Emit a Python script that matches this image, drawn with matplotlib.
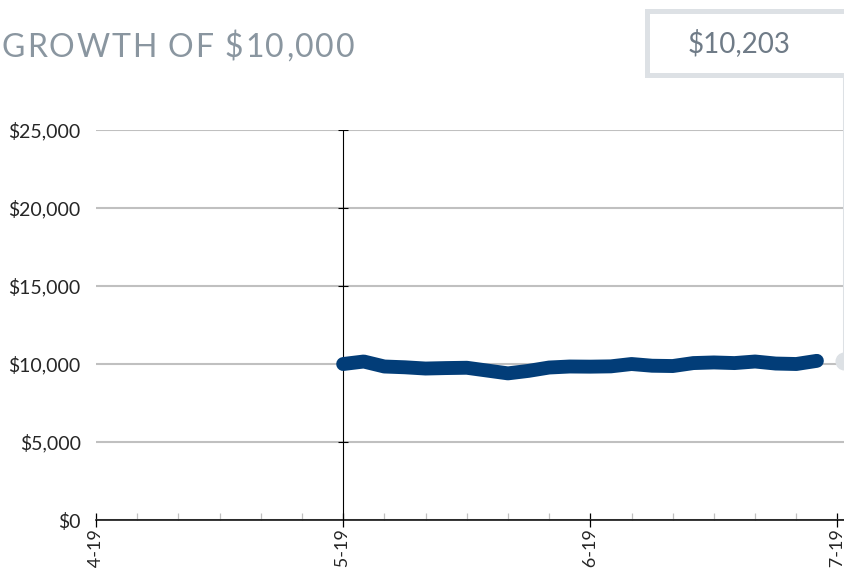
import matplotlib.pyplot as plt
from matplotlib.patches import Rectangle
from matplotlib.ticker import FuncFormatter, MultipleLocator

plt.rcParams['font.family'] = ['Lato', 'DejaVu Sans']

# monthly growth of $10,000, month 0 = start of the fund
months = list(range(24))
values = [10000, 10160, 9840, 9790, 9710, 9740, 9760, 9580, 9400, 9560,
          9775, 9840, 9830, 9850, 10000, 9890, 9870, 10060, 10100, 10060,
          10160, 10030, 10000, 10203]
tick_months = [-12, 0, 12, 24]
tick_labels = ['Jan-14-19', 'Jan-15-19', 'Jan-16-19', 'Jan-17-19']
y_ticks = [0, 5000, 10000, 15000, 20000, 25000]
final_value = values[-1]

NAVY = '#023d78'
GRID = '#c0c0c0'
PALE = '#dde1e5'

fig = plt.figure(figsize=(8.44, 5.69), dpi=100)
ax = fig.add_axes([0.1137, 0.0861, 0.903, 0.6854])

ax.plot(months, values, color=NAVY, lw=10, solid_capstyle='round',
        solid_joinstyle='round', zorder=4)

# start marker line
ax.axvline(0, color='black', lw=0.8, zorder=3)
ax.plot([0] * (len(y_ticks) - 1), y_ticks[1:], ls='none', marker='_',
        ms=7, mew=0.8, color='black', zorder=3)

ax.set_xlim(-12, 25)
ax.set_ylim(0, 25000)
ax.set_yticks(y_ticks)
ax.yaxis.set_major_formatter(FuncFormatter(lambda v, p: f'${v:,.0f}'))
ax.set_xticks(tick_months)
ax.set_xticklabels(tick_labels, rotation=90, va='top', ha='center')
ax.xaxis.set_minor_locator(MultipleLocator(2))

ax.grid(axis='y', color=GRID, lw=1.5, zorder=1)
for s in ['left', 'right', 'top']:
    ax.spines[s].set_visible(False)
ax.spines['bottom'].set_color('black')
ax.spines['bottom'].set_linewidth(1.1)
ax.spines['bottom'].set_zorder(5)

ax.tick_params(axis='y', length=0, pad=11, labelsize=14, labelcolor='#262626')
ax.tick_params(axis='x', which='major', direction='inout', length=10,
               width=0.9, color='black', labelsize=13, pad=1,
               labelcolor='#262626')
ax.tick_params(axis='x', which='minor', direction='in', length=5,
               width=0.9, color=GRID)

# callout: end circle and leader up to the value box
end_x = 24.3
ax.plot([end_x, end_x], [final_value, 28600], color=PALE, lw=2.2,
        clip_on=False, zorder=2)
ax.plot([end_x], [final_value], marker='o', ms=12, color=PALE,
        clip_on=False, zorder=2)

box = Rectangle((0.767, 0.868), 0.26, 0.113, transform=fig.transFigure,
                facecolor='white', edgecolor=PALE, lw=3.6, zorder=3)
fig.patches.append(box)
fig.text(0.876, 0.925, f'${final_value:,.0f}', ha='center', va='center',
         fontsize=20, color='#6f7b87')

# tracked title, drawn letter by letter
title = 'GROWTH OF $10,000'
fig.canvas.draw()
renderer = fig.canvas.get_renderer()
x = 0.002
for ch in title:
    t = fig.text(x, 0.916, ch, ha='left', va='center', fontsize=23,
                 color='#8a96a0')
    w = t.get_window_extent(renderer).width / fig.bbox.width
    if ch == ' ':
        w = 0.009
    x += w + 0.0022

fig.savefig('out.png', dpi=100)
